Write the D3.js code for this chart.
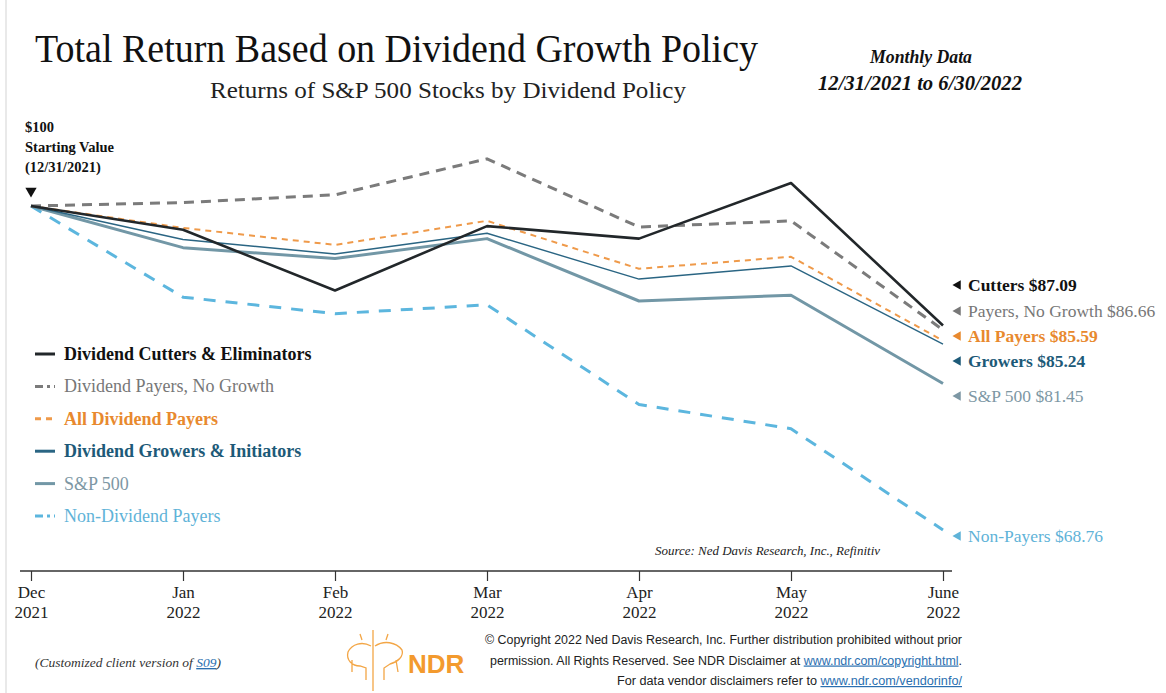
<!DOCTYPE html>
<html>
<head>
<meta charset="utf-8">
<script src="https://cdn.jsdelivr.net/npm/d3@7"></script>
<style>
  body { margin: 0; background: #fff; }
  svg { display: block; font-family: "Liberation Serif", serif; }
</style>
</head>
<body>
<svg id="chart" width="1166" height="693"></svg>
<script>
// data ($100 invested on 12/31/2021)
const months = ["Dec", "Jan", "Feb", "Mar", "Apr", "May", "June"];
const years = ["2021", "2022", "2022", "2022", "2022", "2022", "2022"];
const cutters = [100, 97.3, 90.7, 97.7, 96.3, 102.7, 87.09];
const payersNoGrowth = [100, 100.4, 101.3, 105.6, 97.6, 98.3, 86.66];
const allPayers = [100, 97.5, 95.6, 98.3, 93.0, 94.3, 85.59];
const growers = [100, 96.2, 94.6, 96.9, 91.9, 93.3, 85.24];
const sp500 = [100, 95.3, 94.1, 96.3, 89.6, 90.2, 81.45];
const nonPayers = [100, 90.0, 88.3, 89.2, 79.5, 77.3, 68.76];

const legendNames = ["Dividend Cutters & Eliminators", "Dividend Payers, No Growth", "All Dividend Payers",
  "Dividend Growers & Initiators", "S&P 500", "Non-Dividend Payers"];
const endNames = ["Cutters", "Payers, No Growth", "All Payers", "Growers", "S&P 500", "Non-Payers"];

// styles for each series (same order as above)
const styles = [
  {values: cutters, color: "#22272a", text: "#111", w: 2.6, dash: null, lgDash: null, bold: true, labelY: 285},
  {values: payersNoGrowth, color: "#7b7b7b", text: "#777", w: 3, dash: "10,7", lgDash: "8,4,3,4", bold: false, labelY: 311},
  {values: allPayers, color: "#ef9a4a", text: "#e8892e", w: 2, dash: "6,5", lgDash: "6,5", bold: true, labelY: 336},
  {values: growers, color: "#2a6583", text: "#1d5a78", w: 1.4, dash: null, lgDash: null, bold: true, labelY: 361},
  {values: sp500, color: "#7297a6", text: "#7d97a4", w: 3, dash: null, lgDash: null, bold: false, labelY: 396},
  {values: nonPayers, color: "#5cb6de", text: "#5fb3d8", w: 3, dash: "12,10", lgDash: "8,4,3,4", bold: false, labelY: 536}
];

const svg = d3.select("#chart");

// faint frame line on the left
svg.append("line").attr("x1", 6).attr("x2", 6).attr("y1", 0).attr("y2", 693)
  .attr("stroke", "#e2e2e2").attr("stroke-width", 1.5);

// titles
svg.append("text").attr("x", 35).attr("y", 62).attr("font-size", 40)
  .attr("textLength", 723).attr("lengthAdjust", "spacingAndGlyphs").attr("fill", "#111")
  .text("Total Return Based on Dividend Growth Policy");
svg.append("text").attr("x", 210).attr("y", 98).attr("font-size", 23)
  .attr("textLength", 476).attr("lengthAdjust", "spacingAndGlyphs").attr("fill", "#222")
  .text("Returns of S&P 500 Stocks by Dividend Policy");
svg.append("text").attr("x", 921).attr("y", 63).attr("font-size", 18).attr("font-style", "italic")
  .attr("font-weight", "bold").attr("text-anchor", "middle").attr("textLength", 102)
  .attr("lengthAdjust", "spacingAndGlyphs").attr("fill", "#111").text("Monthly Data");
svg.append("text").attr("x", 920).attr("y", 90).attr("font-size", 21).attr("font-style", "italic")
  .attr("font-weight", "bold").attr("text-anchor", "middle").attr("textLength", 204)
  .attr("lengthAdjust", "spacingAndGlyphs").attr("fill", "#111").text("12/31/2021 to 6/30/2022");

// scales
const x = d3.scalePoint().domain(months).range([31, 943]);
const y = d3.scaleLog().domain([100, 68.76]).range([206, 530]);

// starting value note
const note = svg.append("text").attr("font-size", 14.5).attr("font-weight", "bold").attr("fill", "#111");
["$100", "Starting Value", "(12/31/2021)"].forEach((t, i) => {
  note.append("tspan").attr("x", 25).attr("y", 132 + i * 20).text(t);
});
svg.append("path").attr("d", d3.symbol(d3.symbolTriangle, 55)())
  .attr("transform", `translate(${x("Dec")},${y(100) - 15}) rotate(180)`).attr("fill", "#111");

// x axis
const axisY = 571;
const axis = svg.append("g").attr("transform", `translate(0,${axisY})`)
  .call(d3.axisBottom(x).tickSize(10).tickSizeOuter(0).tickFormat(() => ""));
axis.select(".domain").remove();
axis.selectAll(".tick line").attr("stroke", "#333").attr("stroke-width", 1.2);
svg.append("line").attr("x1", 20).attr("x2", 952).attr("y1", axisY).attr("y2", axisY)
  .attr("stroke", "#333").attr("stroke-width", 1.5);
axis.selectAll(".tick").each(function(d, i) {
  const t = d3.select(this).append("text").attr("fill", "#222").attr("font-size", 17)
    .attr("font-family", "Liberation Serif, serif").attr("text-anchor", "middle");
  t.append("tspan").attr("x", 0).attr("y", 27).text(d);
  t.append("tspan").attr("x", 0).attr("y", 47).text(years[i]);
});

// lines
const line = d3.line().x((d, i) => x(months[i])).y(d => y(d));
styles.slice().reverse().forEach(s => {
  svg.append("path").datum(s.values).attr("d", line).attr("fill", "none")
    .attr("stroke", s.color).attr("stroke-width", s.w)
    .attr("stroke-dasharray", s.dash).attr("stroke-linejoin", "round");
});

// legend
styles.forEach((s, i) => {
  const ly = 354 + i * 32.4;
  svg.append("line").attr("x1", 35).attr("x2", 55).attr("y1", ly).attr("y2", ly)
    .attr("stroke", s.color).attr("stroke-width", 3).attr("stroke-dasharray", s.lgDash);
  svg.append("text").attr("x", 64).attr("y", ly + 6).attr("font-size", 18)
    .attr("font-weight", s.bold ? "bold" : "normal").attr("fill", s.text).text(legendNames[i]);
});

// end labels
styles.forEach((s, i) => {
  const v = s.values[s.values.length - 1];
  svg.append("path").attr("d", d3.symbol(d3.symbolTriangle, 40)())
    .attr("transform", `translate(958,${s.labelY}) rotate(-90)`).attr("fill", s.text);
  svg.append("text").attr("x", 968).attr("y", s.labelY + 6).attr("font-size", 17.5)
    .attr("font-weight", s.bold ? "bold" : "normal").attr("fill", s.text)
    .text(endNames[i] + " $" + v.toFixed(2));
});

// source
svg.append("text").attr("x", 655).attr("y", 555).attr("font-size", 12.5).attr("font-style", "italic")
  .attr("fill", "#222").attr("textLength", 225).attr("lengthAdjust", "spacingAndGlyphs")
  .text("Source:   Ned Davis Research, Inc., Refinitiv");

// customized note
const cust = svg.append("text").attr("x", 35).attr("y", 667).attr("font-size", 13.5)
  .attr("font-style", "italic").attr("fill", "#333");
cust.append("tspan").text("(Customized  client version of ");
cust.append("tspan").attr("fill", "#2a6fb0").attr("text-decoration", "underline").text("S09");
cust.append("tspan").text(")");

// NDR logo (simplified bull & bear)
const logo = svg.append("g").attr("fill", "none").attr("stroke", "#f3a646").attr("stroke-width", 1.3);
logo.append("line").attr("x1", 373).attr("x2", 373).attr("y1", 630).attr("y2", 691);
logo.append("path").attr("d", "M371,646 C362,641 352,644 348,652 C346,660 352,666 360,666 L366,668 L366,680 M352,660 L352,672");
logo.append("path").attr("d", "M375,646 C384,640 396,642 402,650 C404,656 398,662 390,664 L384,668 L384,680 M396,660 L398,672");
logo.append("path").attr("d", "M362,640 L360,634 M386,640 L388,634");
svg.append("text").attr("x", 408).attr("y", 673).attr("font-family", "Liberation Sans, Arial, sans-serif")
  .attr("font-weight", "bold").attr("font-size", 26).attr("fill", "#f39a2e").text("NDR");

// copyright block
const copy = [
  {parts: [["© Copyright 2022 Ned Davis Research, Inc. Further distribution prohibited without prior", false]], w: 477},
  {parts: [["permission. All Rights Reserved. See NDR Disclaimer at  ", false], ["www.ndr.com/copyright.html", true], [".", false]], w: 472},
  {parts: [["For data vendor disclaimers refer to ", false], ["www.ndr.com/vendorinfo/", true]], w: 345}
];
copy.forEach((c, i) => {
  const t = svg.append("text").attr("x", 962).attr("y", 644 + i * 20.5).attr("text-anchor", "end")
    .attr("font-family", "Liberation Sans, Arial, sans-serif").attr("font-size", 12)
    .attr("fill", "#222").attr("textLength", c.w).attr("lengthAdjust", "spacingAndGlyphs");
  c.parts.forEach(p => {
    const ts = t.append("tspan").text(p[0]);
    if (p[1]) ts.attr("fill", "#2a6fb0").attr("text-decoration", "underline");
  });
});
</script>
</body>
</html>
